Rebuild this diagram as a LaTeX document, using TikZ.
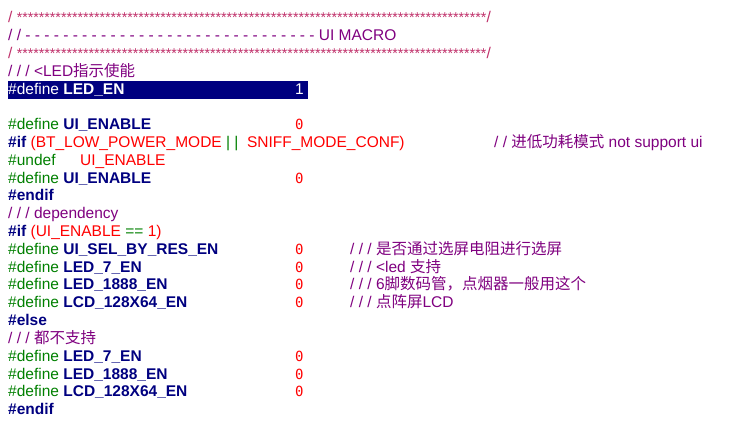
\documentclass[tikz,border=0pt]{standalone}
\usepackage{fontspec}
\setmainfont{Liberation Sans}
\newfontfamily\cjk{Noto Sans CJK SC}
\newfontfamily\mono{DejaVu Sans Mono}
\definecolor{cmt}{HTML}{800080}
\definecolor{pre}{HTML}{008000}
\definecolor{idn}{HTML}{000080}
\definecolor{num}{HTML}{FF0000}
\definecolor{star}{HTML}{C0306A}
\begin{document}
\begin{tikzpicture}[x=1pt,y=-1pt,
  t/.style={anchor=base west,inner sep=0pt,font=\fontsize{15.5}{17}\selectfont},
  n/.style={t,text=num,font=\fontsize{14}{15}\mono}]
\useasboundingbox[fill=white] (0,0) rectangle (741,427);
\fill[idn] (8,81) rectangle (308,99);
\newcommand\Y[1]{23+17.8*#1}
\node[t,text=star] (l0) at (8,{\Y0}) {/ {\fontsize{14.2}{14}\selectfont *************************************************************************************}/};
\node[t,text=cmt] (l1) at (8,{\Y1}) {/ / - - - - - - - - - - - - - - - - - - - - - - - - - - - - - - - UI MACRO};
\node[t,text=star] (l2) at (8,{\Y2}) {/ {\fontsize{14.2}{14}\selectfont *************************************************************************************}/};
\node[t,text=cmt] (l3) at (8,{\Y3}) {/ / / <LED{\cjk 指示使能}};
\node[t,text=white] (l4) at (8,{\Y4}) {\#define {\bfseries LED\_EN}};
\node[t,text=white] (v4) at (295,{\Y4}) {1};
\node[t,text=pre] (l6) at (8,{\Y6}) {\#define {\color{idn}\bfseries UI\_ENABLE}};
\node[n] (v6) at (295,{\Y6}) {0};
\node[t,text=num] (l7) at (8,{\Y7}) {{\color{idn}\bfseries \#if} (BT\_LOW\_POWER\_MODE {\color{pre}| |}\ \ SNIFF\_MODE\_CONF)};
\node[t,text=cmt] (c7) at (494,{\Y7}) {/ / {\cjk 进低功耗模式} not support ui};
\node[t,text=pre] (l8) at (8,{\Y8}) {\#undef};
\node[t,text=num] (u8) at (80,{\Y8}) {UI\_ENABLE};
\node[t,text=pre] (l9) at (8,{\Y9}) {\#define {\color{idn}\bfseries UI\_ENABLE}};
\node[n] (v9) at (295,{\Y9}) {0};
\node[t,text=idn,font=\fontsize{15.5}{17}\selectfont\bfseries] (l10) at (8,{\Y{10}}) {\#endif};
\node[t,text=cmt] (l11) at (8,{\Y{11}}) {/ / / dependency};
\node[t,text=num] (l12) at (8,{\Y{12}}) {{\color{idn}\bfseries \#if} (UI\_ENABLE {\color{pre}==} 1)};
\node[t,text=pre] (l13) at (8,{\Y{13}}) {\#define {\color{idn}\bfseries UI\_SEL\_BY\_RES\_EN}};
\node[n] (v13) at (295,{\Y{13}}) {0};
\node[t,text=cmt] (c13) at (350,{\Y{13}}) {/ / / {\cjk 是否通过选屏电阻进行选屏}};
\node[t,text=pre] (l14) at (8,{\Y{14}}) {\#define {\color{idn}\bfseries LED\_7\_EN}};
\node[n] (v14) at (295,{\Y{14}}) {0};
\node[t,text=cmt] (c14) at (350,{\Y{14}}) {/ / / <led {\cjk 支持}};
\node[t,text=pre] (l15) at (8,{\Y{15}}) {\#define {\color{idn}\bfseries LED\_1888\_EN}};
\node[n] (v15) at (295,{\Y{15}}) {0};
\node[t,text=cmt] (c15) at (350,{\Y{15}}) {/ / / 6{\cjk 脚数码管，点烟器一般用这个}};
\node[t,text=pre] (l16) at (8,{\Y{16}}) {\#define {\color{idn}\bfseries LCD\_128X64\_EN}};
\node[n] (v16) at (295,{\Y{16}}) {0};
\node[t,text=cmt] (c16) at (350,{\Y{16}}) {/ / / {\cjk 点阵屏}LCD};
\node[t,text=idn,font=\fontsize{15.5}{17}\selectfont\bfseries] (l17) at (8,{\Y{17}}) {\#else};
\node[t,text=cmt] (l18) at (8,{\Y{18}}) {/ / / {\cjk 都不支持}};
\node[t,text=pre] (l19) at (8,{\Y{19}}) {\#define {\color{idn}\bfseries LED\_7\_EN}};
\node[n] (v19) at (295,{\Y{19}}) {0};
\node[t,text=pre] (l20) at (8,{\Y{20}}) {\#define {\color{idn}\bfseries LED\_1888\_EN}};
\node[n] (v20) at (295,{\Y{20}}) {0};
\node[t,text=pre] (l21) at (8,{\Y{21}}) {\#define {\color{idn}\bfseries LCD\_128X64\_EN}};
\node[n] (v21) at (295,{\Y{21}}) {0};
\node[t,text=idn,font=\fontsize{15.5}{17}\selectfont\bfseries] (l22) at (8,{\Y{22}}) {\#endif};
\end{tikzpicture}
\end{document}
